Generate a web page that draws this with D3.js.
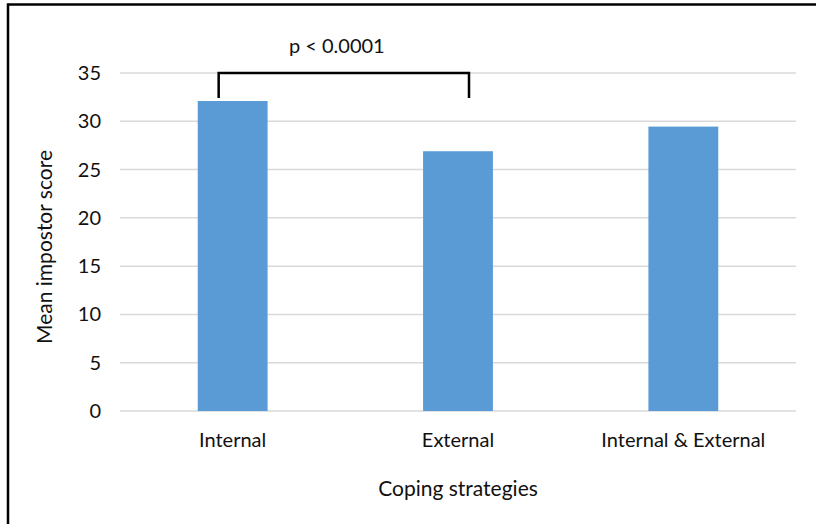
<!DOCTYPE html>
<html>
<head>
<meta charset="utf-8">
<script src="https://cdn.jsdelivr.net/npm/d3@7"></script>
<style>
  body { margin: 0; background: #fff; }
  text { font-family: Lato, "Liberation Sans", sans-serif; fill: #111; }
</style>
</head>
<body>
<svg id="chart" width="816" height="524"></svg>
<script>
var categories = ["Internal", "External", "Internal & External"];
var meanScores = [32.1, 26.9, 29.45];
var yTicks = [0, 5, 10, 15, 20, 25, 30, 35];
var sigPair = ["Internal", "External"];
var sigLabel = "p < 0.0001";

var svg = d3.select("#chart");

// frame: only top and left edges are visible
svg.append("path")
    .attr("d", "M8,524 L8,4.5 L816,4.5")
    .style("fill", "none")
    .style("stroke", "#000")
    .style("stroke-width", 2.5);

var x = d3.scaleBand()
    .domain(categories)
    .range([120, 796])
    .paddingInner(0.69)
    .paddingOuter(0.345);

var y = d3.scaleLinear()
    .domain([0, 35])
    .range([411, 73]);

// gridlines
svg.selectAll(".grid")
    .data(yTicks)
    .enter()
    .append("line")
    .attr("x1", 120)
    .attr("x2", 796)
    .attr("y1", d => y(d))
    .attr("y2", d => y(d))
    .style("stroke", "#d9d9d9")
    .style("stroke-width", 1.5);

// y tick labels
svg.selectAll(".ylab")
    .data(yTicks)
    .enter()
    .append("text")
    .attr("x", 101)
    .attr("y", d => y(d))
    .attr("dy", "0.35em")
    .attr("text-anchor", "end")
    .style("font-size", "20px")
    .text(d => d);

// bars
svg.selectAll(".bar")
    .data(categories)
    .enter()
    .append("rect")
    .attr("x", d => x(d))
    .attr("width", x.bandwidth())
    .attr("y", (d, i) => y(meanScores[i]))
    .attr("height", (d, i) => y(0) - y(meanScores[i]))
    .style("fill", "#5b9bd5");

// category labels
svg.selectAll(".xlab")
    .data(categories)
    .enter()
    .append("text")
    .attr("x", d => x(d) + x.bandwidth() / 2)
    .attr("y", 447)
    .attr("text-anchor", "middle")
    .style("font-size", "20px")
    .text(d => d);

// axis titles
svg.append("text")
    .attr("x", 458)
    .attr("y", 496)
    .attr("text-anchor", "middle")
    .style("font-size", "21px")
    .text("Coping strategies");

svg.append("text")
    .attr("transform", "translate(52,247) rotate(-90)")
    .attr("text-anchor", "middle")
    .style("font-size", "21px")
    .text("Mean impostor score");

// significance bracket
var xa = x(sigPair[0]) + x.bandwidth() / 2 - 14;
var xb = x(sigPair[1]) + x.bandwidth() / 2 + 11;
var yTop = y(35);
var yEnd = y(32.4);

svg.append("path")
    .attr("d", "M" + xa + "," + yEnd + " L" + xa + "," + yTop + " L" + xb + "," + yTop + " L" + xb + "," + yEnd)
    .style("fill", "none")
    .style("stroke", "#000")
    .style("stroke-width", 2.5);

svg.append("text")
    .attr("x", (xa + xb) / 2 - 7)
    .attr("y", 53)
    .attr("text-anchor", "middle")
    .style("font-size", "20px")
    .text(sigLabel);
</script>
</body>
</html>
